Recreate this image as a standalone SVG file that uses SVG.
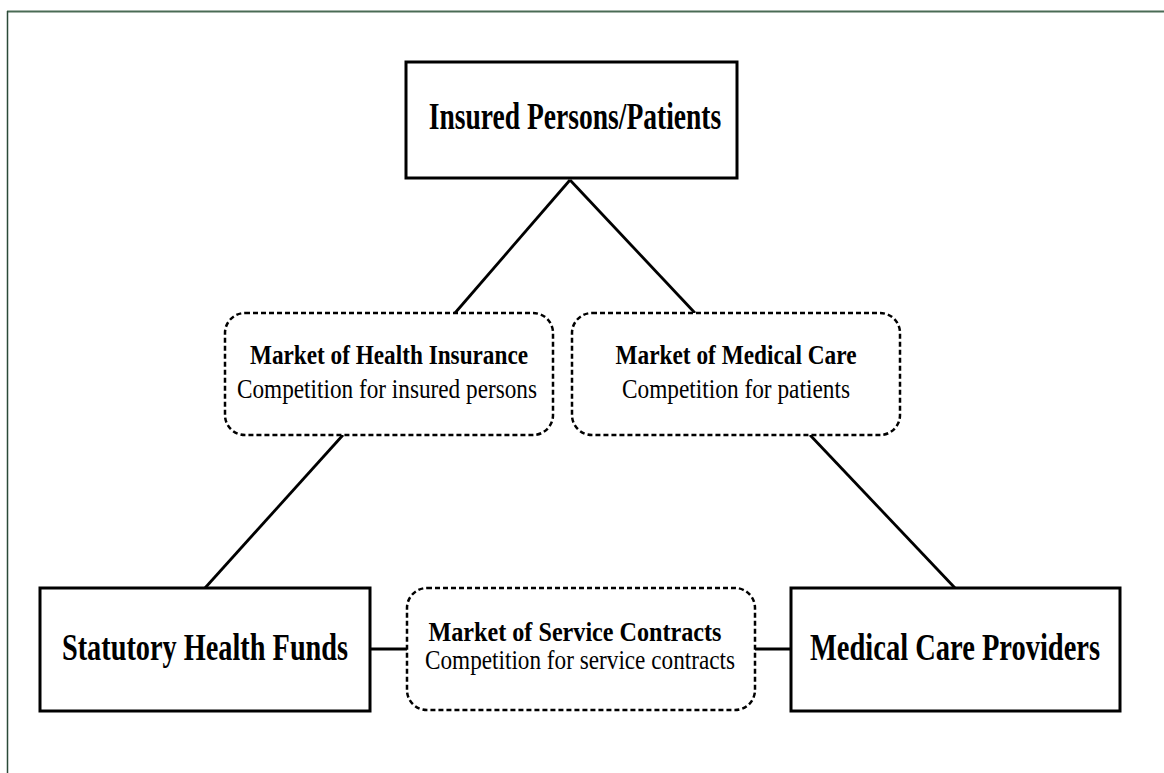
<svg xmlns="http://www.w3.org/2000/svg" width="1164" height="773" viewBox="0 0 1164 773">
<style>
.box{fill:#fff;stroke:#000;stroke-width:3}
.mkt{fill:#fff;stroke:#000;stroke-width:2.5;stroke-dasharray:5 3}
.ln{stroke:#000;stroke-width:2.8;fill:none}
.big{font-family:"Liberation Serif",serif;font-weight:bold;font-size:38px;text-anchor:middle}
.t1{font-family:"Liberation Serif",serif;font-weight:bold;font-size:27px;text-anchor:middle}
.t2{font-family:"Liberation Serif",serif;font-size:27px;text-anchor:middle}
</style>
<rect width="1164" height="773" fill="#fff"/>
<g id="frame">
<line x1="7" y1="11.5" x2="1164" y2="11.5" stroke="#4a6b55" stroke-width="1.8"/>
<line x1="7.5" y1="11" x2="7.5" y2="773" stroke="#2b4a38" stroke-width="1.5"/>
</g>
<g id="connectors">
<line class="ln" x1="570" y1="180" x2="455" y2="313"/>
<line class="ln" x1="570" y1="180" x2="695" y2="313"/>
<line class="ln" x1="343" y1="435" x2="205" y2="588"/>
<line class="ln" x1="810" y1="435" x2="955" y2="588"/>
<line class="ln" x1="370" y1="649" x2="407" y2="649"/>
<line class="ln" x1="755" y1="649" x2="791" y2="649"/>
</g>
<g id="insured">
<rect class="box" x="406" y="62" width="331" height="116"/>
<text class="big" transform="translate(575 129) scale(0.725 1)" x="0" y="0">Insured Persons/Patients</text>
</g>
<g id="market-health-insurance">
<rect class="mkt" x="225" y="313" width="328" height="122" rx="20"/>
<text class="t1" x="389" y="364" textLength="278" lengthAdjust="spacingAndGlyphs">Market of Health Insurance</text>
<text class="t2" x="387" y="398" textLength="300" lengthAdjust="spacingAndGlyphs">Competition for insured persons</text>
</g>
<g id="market-medical-care">
<rect class="mkt" x="572" y="313" width="328" height="122" rx="20"/>
<text class="t1" x="736" y="364" textLength="241" lengthAdjust="spacingAndGlyphs">Market of Medical Care</text>
<text class="t2" x="736" y="398" textLength="228" lengthAdjust="spacingAndGlyphs">Competition for patients</text>
</g>
<g id="statutory">
<rect class="box" x="40" y="588" width="330" height="123"/>
<text class="big" transform="translate(205 660) scale(0.745 1)" x="0" y="0">Statutory Health Funds</text>
</g>
<g id="market-service-contracts">
<rect class="mkt" x="407" y="588" width="348" height="122" rx="20"/>
<text class="t1" x="575" y="641" textLength="293" lengthAdjust="spacingAndGlyphs">Market of Service Contracts</text>
<text class="t2" x="580" y="669" textLength="310" lengthAdjust="spacingAndGlyphs">Competition for service contracts</text>
</g>
<g id="providers">
<rect class="box" x="791" y="588" width="329" height="123"/>
<text class="big" transform="translate(955 660) scale(0.75 1)" x="0" y="0">Medical Care Providers</text>
</g>
</svg>
